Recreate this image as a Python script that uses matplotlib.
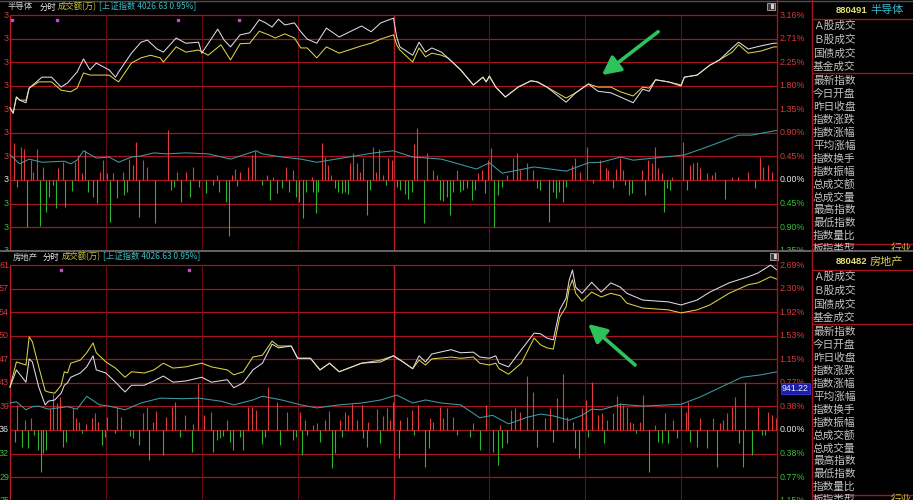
import matplotlib
matplotlib.use('Agg')
import matplotlib.pyplot as plt
from matplotlib.lines import Line2D
from matplotlib.patches import Rectangle

plt.rcParams['font.family'] = ['Noto Sans CJK SC', 'DejaVu Sans']

# ---------------- 880491 半导体 (percent change vs. previous close) ----------------
semi_t = [0, 1, 2, 3, 5, 6, 10, 13, 16, 18, 21, 23, 25, 27, 31, 33, 34, 38, 41, 43,
          46, 48, 52, 55, 59, 60, 65, 67, 69, 72, 75, 78, 80, 82, 84, 86, 89, 91, 93, 96,
          99, 103, 105, 110, 113, 116, 120, 121, 122, 126, 128, 130, 132, 135, 137, 141, 145, 148, 149, 150,
          152, 155, 159, 163, 165, 168, 174, 177, 181, 184, 188, 191, 195, 198, 200, 202, 206, 210, 211, 215,
          219, 222, 226, 228, 231, 235, 239, 240]
semi_idx = [1.38, 1.28, 1.59, 1.53, 1.48, 1.76, 1.97, 1.97, 1.78, 1.86, 2.07, 2.32, 2.11, 2.24, 2.11, 1.97, 2.07, 2.43, 2.64, 2.68,
            2.51, 2.45, 2.72, 2.62, 2.64, 2.43, 2.89, 2.68, 2.55, 2.78, 2.82, 3.07, 3.01, 2.93, 3.08, 2.97, 3.01, 2.84, 2.70, 2.62,
            2.91, 2.74, 2.80, 2.95, 2.84, 3.01, 3.10, 2.74, 2.55, 2.39, 2.64, 2.45, 2.53, 2.45, 2.34, 2.11, 1.82, 1.97, 1.88, 1.99,
            1.78, 1.59, 1.78, 1.90, 1.88, 1.78, 1.49, 1.67, 1.84, 1.70, 1.67, 1.59, 1.48, 1.74, 1.70, 1.92, 1.88, 1.80, 1.97, 2.01,
            2.20, 2.30, 2.53, 2.64, 2.51, 2.57, 2.62, 2.62]
semi_avg_t = [0, 1, 2, 3, 5, 6, 9, 13, 16, 19, 21, 23, 25, 28, 31, 33, 34, 38, 41, 44,
              47, 48, 52, 55, 59, 62, 66, 69, 72, 75, 78, 81, 83, 86, 89, 91, 93, 96, 99, 103,
              110, 113, 116, 120, 121, 122, 126, 128, 130, 132, 135, 137, 141, 145, 148, 149, 150, 152, 155, 159,
              163, 165, 168, 174, 177, 181, 184, 188, 191, 195, 198, 200, 202, 206, 210, 211, 215, 219, 222, 226,
              228, 231, 235, 239, 240]
semi_avg = [1.38, 1.28, 1.59, 1.53, 1.53, 1.76, 1.88, 1.88, 1.72, 1.69, 1.76, 2.05, 2.01, 2.01, 2.01, 1.92, 1.88, 2.24, 2.34, 2.39,
            2.34, 2.26, 2.55, 2.45, 2.49, 2.39, 2.59, 2.30, 2.61, 2.62, 2.85, 2.78, 2.72, 2.80, 2.72, 2.53, 2.53, 2.34, 2.55, 2.43,
            2.57, 2.62, 2.70, 2.78, 2.59, 2.49, 2.26, 2.53, 2.36, 2.43, 2.39, 2.34, 2.11, 1.82, 1.97, 1.88, 1.99, 1.78, 1.59, 1.78,
            1.90, 1.88, 1.78, 1.57, 1.67, 1.84, 1.78, 1.78, 1.69, 1.61, 1.78, 1.76, 1.92, 1.88, 1.82, 1.97, 2.01, 2.20, 2.30, 2.45,
            2.59, 2.43, 2.47, 2.55, 2.55]
semi_sh_t = [0, 3, 6, 10, 17, 19, 21, 23, 27, 31, 34, 38, 41, 45, 49, 55, 62, 69, 72, 77,
             79, 85, 91, 96, 106, 114, 120, 126, 135, 146, 150, 154, 164, 174, 181, 185, 191, 195, 211, 218,
             228, 232, 239, 240]
semi_sh = [0.48, 0.31, 0.40, 0.34, 0.36, 0.31, 0.38, 0.56, 0.42, 0.44, 0.34, 0.44, 0.46, 0.52, 0.50, 0.52, 0.50, 0.40, 0.46, 0.56,
           0.50, 0.44, 0.40, 0.34, 0.44, 0.52, 0.56, 0.44, 0.40, 0.21, 0.33, 0.13, 0.25, 0.17, 0.33, 0.34, 0.44, 0.38, 0.48, 0.63,
           0.86, 0.86, 0.94, 0.95]
semi_up_t = [1.3, 3.4, 4.4, 6.6, 7.2, 8.4, 10.3, 15.0, 16.6, 20.3, 21.3, 22.5, 23.5, 28.2, 29.1, 30.4, 32.2, 35.4, 37.2, 38.5,
             39.4, 41.6, 42.9, 49.4, 52.3, 55.1, 57.3, 64.8, 69.5, 70.4, 72.0, 74.5, 75.7, 76.7, 80.4, 82.3, 86.4, 88.5, 94.5, 97.6,
             98.6, 99.5, 100.4, 106.4, 107.3, 108.6, 109.5, 110.5, 113.6, 114.5, 115.5, 116.7, 118.3, 119.5, 126.4, 127.3, 130.5, 132.4, 133.6, 139.9,
             146.4, 147.7, 149.6, 150.5, 155.5, 157.4, 158.6, 159.6, 161.8, 163.6, 175.8, 176.8, 178.3, 180.5, 184.6, 186.5, 187.1, 189.6, 190.9, 191.8,
             197.7, 199.6, 200.9, 201.8, 202.7, 204.0, 207.1, 210.6, 212.8, 213.7, 214.9, 215.9, 218.1, 219.6, 220.6, 225.9, 227.8, 230.9, 234.7, 235.6,
             237.2, 238.4]
semi_up = [0.71, 0.63, 0.59, 0.38, 0.15, 0.59, 0.25, 0.23, 0.34, 0.34, 0.48, 0.13, 0.57, 0.15, 0.38, 0.13, 0.13, 0.15, 0.40, 0.29,
           0.73, 0.38, 0.25, 0.96, 0.15, 0.15, 0.25, 0.10, 0.10, 0.21, 0.15, 0.25, 0.48, 0.56, 0.10, 0.06, 0.25, 0.19, 0.06, 0.71,
           0.44, 0.29, 0.10, 0.33, 0.52, 0.33, 0.15, 0.42, 0.63, 0.15, 0.59, 0.10, 0.42, 0.38, 0.69, 1.00, 0.52, 0.19, 0.10, 0.19,
           0.13, 0.19, 0.38, 0.61, 0.10, 0.42, 0.52, 0.19, 0.33, 0.19, 0.29, 0.42, 0.15, 0.63, 0.38, 0.23, 0.19, 0.21, 0.42, 0.19,
           0.19, 0.38, 0.33, 0.63, 0.23, 0.13, 0.06, 0.73, 0.29, 0.33, 0.34, 0.23, 0.13, 0.10, 0.15, 0.06, 0.06, 0.15, 0.44, 0.25,
           0.29, 0.15]
semi_dn_t = [2.2, 5.3, 9.4, 11.3, 12.2, 13.5, 14.4, 17.2, 19.4, 24.4, 26.0, 27.2, 31.3, 33.5, 35.8, 36.6, 40.4, 45.4, 50.4, 51.3,
             53.5, 56.3, 59.1, 61.3, 63.5, 65.4, 67.6, 68.5, 71.0, 78.8, 81.4, 83.5, 85.1, 87.3, 89.5, 90.4, 91.7, 92.6, 94.9, 95.6,
             96.4, 101.7, 102.6, 103.9, 104.8, 105.8, 111.7, 112.6, 117.6, 121.1, 122.0, 123.6, 124.5, 125.8, 129.5, 134.5, 135.5, 136.7, 137.7, 138.6,
             140.8, 141.7, 143.0, 144.6, 145.5, 148.6, 151.4, 152.7, 154.0, 164.9, 165.8, 168.6, 169.9, 170.8, 171.8, 173.0, 174.0, 182.4, 188.7, 192.3,
             193.7, 194.6, 198.7, 204.6, 205.6, 206.5, 211.8, 223.7, 233.1]
semi_dn = [-0.13, -0.90, -0.88, -0.61, -0.33, -0.10, -0.54, -0.52, -0.21, -0.23, -0.33, -0.44, -0.80, -0.34, -0.29, -0.23, -0.71, -0.82, -0.19, -0.13,
           -0.42, -0.33, -0.13, -0.25, -0.10, -0.23, -0.42, -1.07, -0.11, -0.10, -0.38, -0.25, -0.15, -0.23, -0.33, -0.42, -0.73, -0.23, -0.23, -0.63,
           -0.23, -0.15, -0.23, -0.25, -0.23, -0.27, -0.67, -0.19, -0.10, -0.13, -0.19, -0.27, -0.36, -0.23, -0.82, -0.38, -0.40, -0.33, -0.67, -0.23,
           -0.23, -0.19, -0.15, -0.38, -0.19, -0.25, -0.90, -0.29, -0.13, -0.15, -0.19, -0.80, -0.23, -0.34, -0.23, -0.42, -0.13, -0.06, -0.15, -0.10,
           -0.29, -0.25, -0.29, -0.61, -0.15, -0.19, -0.19, -0.36, -0.15]
semi_right = ['3.16%', '2.71%', '2.25%', '1.80%', '1.35%', '0.90%', '0.45%', '0.00%', '0.45%', '0.90%', '1.35%']
semi_left = ['3'] * 11
semi_marks_t = [0.6, 14.7, 52.6, 71.7]

# ---------------- 880482 房地产 ----------------
estate_t = [0, 2, 5, 6, 7, 9, 11, 12, 14, 16, 17, 18, 19, 22, 24, 26, 27, 30, 33, 36,
            38, 42, 45, 48, 51, 55, 60, 63, 68, 70, 73, 76, 79, 82, 84, 88, 90, 94, 97, 100,
            103, 110, 116, 120, 123, 126, 128, 130, 132, 138, 141, 145, 147, 150, 152, 153, 156, 160, 164, 166,
            168, 170, 172, 174, 175, 176, 177, 179, 182, 185, 188, 191, 193, 198, 206, 210, 215, 219, 225, 231,
            234, 238, 240]
estate_idx = [0.70, 0.98, 0.78, 1.16, 1.11, 0.70, 0.41, 0.47, 0.49, 0.60, 0.73, 0.77, 0.86, 0.93, 1.03, 1.21, 0.98, 0.93, 0.78, 0.62,
              0.73, 0.73, 0.80, 0.88, 0.78, 0.80, 0.86, 0.78, 0.82, 0.69, 0.77, 0.98, 1.09, 1.40, 1.34, 1.37, 1.17, 1.17, 0.98, 1.09,
              0.95, 1.09, 1.11, 1.21, 1.11, 1.00, 1.21, 1.11, 1.24, 1.31, 1.26, 1.27, 1.19, 1.17, 1.21, 1.09, 1.03, 1.31, 1.58, 1.57,
              1.50, 1.47, 1.96, 2.15, 2.45, 2.61, 2.33, 2.23, 2.41, 2.25, 2.40, 2.33, 2.23, 2.12, 2.09, 2.04, 2.12, 2.25, 2.40, 2.50,
              2.56, 2.69, 2.61]
estate_avg = [0.70, 1.11, 1.06, 1.52, 1.44, 1.03, 0.64, 0.62, 0.60, 0.73, 0.95, 0.93, 1.09, 1.14, 1.26, 1.42, 1.26, 1.11, 1.01, 0.86,
              0.95, 0.93, 0.98, 1.09, 1.01, 1.03, 1.09, 1.03, 0.98, 0.90, 0.95, 1.19, 1.22, 1.45, 1.37, 1.37, 1.17, 1.17, 0.98, 1.09,
              0.95, 1.09, 1.14, 1.21, 1.11, 1.00, 1.14, 1.06, 1.16, 1.19, 1.17, 1.19, 1.09, 1.06, 1.09, 1.00, 0.91, 1.09, 1.50, 1.39,
              1.34, 1.32, 1.84, 2.01, 2.32, 2.45, 2.23, 2.10, 2.25, 2.17, 2.23, 2.19, 2.07, 1.99, 1.96, 1.91, 1.96, 2.04, 2.23, 2.37,
              2.40, 2.50, 2.46]
estate_sh_t = [0, 2, 5, 7, 9, 12, 18, 21, 24, 28, 31, 36, 41, 47, 54, 59, 66, 70, 76, 79,
               85, 91, 96, 103, 110, 116, 121, 126, 130, 135, 141, 147, 151, 156, 162, 166, 170, 175, 179, 182,
               185, 191, 198, 210, 216, 229, 235, 240]
estate_sh = [0.44, 0.46, 0.33, 0.38, 0.39, 0.34, 0.38, 0.34, 0.55, 0.41, 0.39, 0.33, 0.44, 0.52, 0.51, 0.52, 0.47, 0.41, 0.49, 0.55,
             0.49, 0.41, 0.36, 0.41, 0.44, 0.49, 0.57, 0.44, 0.49, 0.44, 0.41, 0.20, 0.24, 0.10, 0.21, 0.26, 0.23, 0.16, 0.24, 0.34,
             0.33, 0.42, 0.39, 0.42, 0.54, 0.86, 0.90, 0.95]
estate_up_t = [2.2, 4.7, 6.6, 12.5, 13.5, 14.7, 15.6, 19.7, 20.7, 21.6, 23.8, 25.7, 26.6, 27.5, 30.4, 33.5, 34.7, 41.6, 42.9, 44.7,
               45.7, 48.8, 50.7, 51.6, 54.8, 57.3, 58.8, 60.7, 62.9, 67.9, 74.5, 75.7, 77.0, 80.7, 83.5, 86.7, 90.7, 92.3, 94.8, 96.1,
               98.6, 99.8, 103.3, 104.8, 105.8, 107.0, 108.6, 110.1, 112.0, 114.8, 116.7, 118.0, 118.9, 119.8, 122.0, 124.2, 125.8, 127.7, 131.4, 132.4,
               134.5, 135.5, 136.7, 138.6, 144.9, 148.9, 153.3, 156.8, 158.0, 159.6, 161.8, 163.6, 167.4, 169.0, 171.2, 173.0, 174.3, 176.2, 179.0, 180.2,
               182.1, 184.0, 185.2, 186.8, 188.7, 189.9, 190.9, 191.8, 193.1, 194.0, 194.9, 197.1, 198.1, 201.8, 204.9, 207.4, 210.0, 211.5, 212.1, 215.9,
               220.0, 222.2, 223.1, 224.3, 225.9, 226.8, 230.0, 234.0, 237.2, 238.4, 239.6]
estate_up = [0.41, 0.16, 0.20, 0.34, 0.59, 0.44, 0.54, 0.36, 0.20, 0.13, 0.10, 0.20, 0.28, 0.13, 0.21, 0.38, 0.21, 0.28, 0.38, 0.13,
             0.31, 0.21, 0.38, 0.46, 0.24, 0.10, 0.75, 0.24, 0.29, 0.16, 0.38, 0.38, 0.33, 0.70, 0.46, 0.29, 0.29, 0.16, 0.08, 0.11,
             0.16, 0.31, 0.16, 0.29, 0.24, 0.42, 0.16, 0.41, 0.13, 0.34, 0.23, 0.36, 0.16, 0.46, 0.16, 0.21, 0.33, 0.41, 0.20, 0.13,
             0.38, 0.20, 0.36, 0.21, 0.11, 0.41, 0.08, 0.33, 0.36, 0.29, 0.88, 0.62, 0.20, 0.36, 0.52, 0.91, 0.21, 0.13, 0.36, 0.49,
             0.78, 0.24, 0.28, 0.16, 0.28, 0.55, 0.44, 0.41, 0.38, 0.13, 0.11, 0.13, 0.57, 0.08, 0.28, 0.16, 0.41, 0.29, 0.46, 0.20,
             0.20, 0.11, 0.16, 0.28, 0.38, 0.54, 0.78, 0.38, 0.29, 0.24, 0.20]
estate_dn_t = [1.6, 3.8, 5.6, 7.5, 8.8, 9.7, 10.3, 11.3, 16.6, 17.5, 22.5, 28.8, 29.7, 32.9, 37.5, 38.5, 40.4, 43.5, 47.9, 53.2,
               56.9, 63.5, 64.8, 65.7, 66.6, 68.8, 69.8, 72.0, 72.9, 78.8, 79.8, 84.5, 88.5, 89.5, 91.4, 92.9, 97.0, 100.8, 101.7, 103.9,
               110.5, 111.7, 115.8, 121.7, 126.5, 129.9, 131.1, 139.9, 143.9, 147.1, 151.1, 152.7, 153.9, 155.5, 164.9, 169.9, 176.8, 178.0, 180.9, 185.9,
               195.9, 199.9, 202.8, 204.0, 205.9, 208.7, 212.8, 215.0, 218.1, 221.2, 228.1, 229.3, 232.2, 235.3, 236.2]
estate_dn = [-0.20, -0.28, -0.29, -0.08, -0.33, -0.69, -0.38, -0.33, -0.28, -0.20, -0.05, -0.24, -0.11, -0.05, -0.10, -0.13, -0.24, -0.49, -0.41, -0.11,
             -0.36, -0.36, -0.16, -0.13, -0.10, -0.20, -0.33, -0.11, -0.33, -0.23, -0.11, -0.24, -0.16, -0.11, -0.40, -0.08, -0.20, -0.62, -0.38, -0.11,
             -0.13, -0.28, -0.21, -0.46, -0.08, -0.60, -0.29, -0.08, -0.11, -0.33, -0.36, -0.57, -0.29, -0.21, -0.28, -0.20, -0.29, -0.46, -0.11, -0.21,
             -0.05, -0.69, -0.20, -0.21, -0.21, -0.13, -0.20, -0.28, -0.29, -0.60, -0.21, -0.60, -0.41, -0.08, -0.08]
estate_right = ['2.69%', '2.30%', '1.92%', '1.53%', '1.15%', '0.77%', '0.38%', '0.00%', '0.38%', '0.77%', '1.15%']
estate_left = ['61', '57', '54', '50', '47', '43', '39', '36', '32', '29', '25']
estate_marks_t = [16.0, 56.0]

info_rows = ['Ａ股成交', 'Ｂ股成交', '国债成交', '基金成交', '最新指数', '今日开盘', '昨日收盘',
             '指数涨跌', '指数涨幅', '平均涨幅', '指数换手', '指数振幅', '总成交额', '总成交量',
             '最高指数', '最低指数', '指数量比', '板指类型']

W, H = 913, 500
PX_MIN = 767 / 240          # pixels per minute on the time axis
RED_GRID = '#a8141e'
NUM_FONT = ['Liberation Sans', 'DejaVu Sans']

fig = plt.figure(figsize=(W / 100, H / 100), dpi=100, facecolor='black')


def fig_box(x0, y0, x1, y1):
    return [x0 / W, 1 - y1 / H, (x1 - x0) / W, (y1 - y0) / H]


def fig_line(xs, ys, color, lw=1.0):
    fig.add_artist(Line2D([x / W for x in xs], [1 - y / H for y in ys],
                          transform=fig.transFigure, color=color, lw=lw))


def draw_chart(box, y_lo, y_hi, step, t_idx, idx, t_avg, avg, t_sh, sh,
               up_t, up, dn_t, dn, right_labels, left_labels, marks_t, mark_y, arrow):
    ax = fig.add_axes(fig_box(*box))
    ax.set_xlim(-10 / PX_MIN, 802 / PX_MIN)
    ax.set_ylim(y_lo, y_hi)
    ax.axis('off')
    levels = [step * (7 - i) for i in range(len(right_labels))]
    top = levels[0]

    ax.hlines(levels, 0, 240, color=RED_GRID, lw=0.9, zorder=1)
    ax.vlines([30, 60, 90, 150, 180, 210], y_lo, top, color='#6a0c18', lw=0.8, zorder=1)
    ax.vlines([0, 120], y_lo, top, color='#b8202c', lw=1.0, zorder=1)

    ax.vlines(up_t, 0, up, color='#e23a3a', lw=0.8, zorder=2)
    ax.vlines(dn_t, dn, 0, color='#2cb42c', lw=0.8, zorder=2)
    ax.plot(t_sh, sh, color='#3c9ca6', lw=0.75, zorder=3)
    ax.plot(t_avg, avg, color='#dcd246', lw=0.75, zorder=4)
    ax.plot(t_idx, idx, color='#dcdce6', lw=0.75, zorder=5)
    ax.plot(marks_t, [mark_y] * len(marks_t), 's', ms=1.8, color='#d046d0', zorder=5)

    for lv, rl, ll in zip(levels, right_labels, left_labels):
        if abs(lv) < 1e-6:
            c = '#e8e8e8'
        elif lv > 0:
            c = '#d83a3a'
        else:
            c = '#34c034'
        ax.text(240.7, lv, rl, color=c, fontsize=6.4, family=NUM_FONT,
                ha='left', va='center', clip_on=True)
        ax.text(-0.3, lv, ll, color=c, fontsize=6.4, family=NUM_FONT,
                ha='right', va='center', clip_on=True)

    (tx, ty), (hx, hy) = arrow
    ax.annotate('', xy=(hx, hy), xytext=(tx, ty),
                arrowprops=dict(arrowstyle='-|>,head_length=0.55,head_width=0.28',
                                color='#2ec25c', lw=2.6, mutation_scale=20,
                                shrinkA=0, shrinkB=0), zorder=6)
    return ax


# top chart: 0.00% at y=180px, 52.2 px per 1%
draw_chart((0, 8, 812, 251), -(251 - 180) / 52.2, (180 - 8) / 52.2, 3.16 / 7,
           semi_t, semi_idx, semi_avg_t, semi_avg, semi_sh_t, semi_sh,
           semi_up_t, semi_up, semi_dn_t, semi_dn, semi_right, semi_left,
           semi_marks_t, 3.07, ((202.8, 2.84), (185.2, 2.01)))

# bottom chart: 0.00% at y=430px, 61.3 px per 1%
draw_chart((0, 262, 812, 500), -(500 - 430) / 61.3, (430 - 262) / 61.3, 2.69 / 7,
           estate_t, estate_idx, estate_t, estate_avg, estate_sh_t, estate_sh,
           estate_up_t, estate_up, estate_dn_t, estate_dn, estate_right, estate_left,
           estate_marks_t, 2.61, ((195.6, 1.06), (180.9, 1.73)))

# frame lines
fig_line([0, W], [0.5, 0.5], '#505050')
fig_line([0, W], [251, 251], '#7c7c7c', lw=1.1)
fig_line([777, 777], [0, H], RED_GRID)
fig_line([812, 812], [0, H], RED_GRID)


def header(y, name, name_x, offs):
    fig.text(name_x / W, 1 - y / H, name, color='#d0d0d0', fontsize=6, va='center')
    fig.text(offs[0] / W, 1 - y / H, '分时', color='#f0f0f0', fontsize=6, va='center')
    fig.text(offs[1] / W, 1 - y / H, '成交额(万)', color='#c8c040', fontsize=6, va='center')
    fig.text(offs[2] / W, 1 - y / H, '[上证指数 4026.63 0.95%]', color='#3cbcc0',
             fontsize=6, va='center')


header(7, '半导体', 8, (40, 58, 99))
header(257, '房地产', 13, (43, 62, 103))


def draw_info(y0, y1, code, name, name_color):
    ax = fig.add_axes(fig_box(812, y0, W, y1))
    ax.set_xlim(812, W)
    ax.set_ylim(y1, y0)
    ax.axis('off')
    for yy in (19, 73, 244):
        ax.hlines(y0 + yy, 812, W, color=RED_GRID, lw=1.0)
    ax.text(836, y0 + 10.5, code, color='#e6e07a', fontsize=6.8, weight='bold',
            family=NUM_FONT, va='center')
    ax.text(870, y0 + 10.5, name, color=name_color, fontsize=8, va='center')
    ys = [26 + 13.6 * i for i in range(4)] + [81 + 12.92 * k for k in range(14)]
    for label, yy in zip(info_rows, ys):
        ax.text(813, y0 + yy, label, color='#c4c4c4', fontsize=7.7, va='center', clip_on=True)
    ax.text(891, y0 + 249, '行业', color='#c8b43c', fontsize=7.7, va='center', clip_on=True)


draw_info(0, 251, '880491', '半导体', '#36bcd0')
draw_info(251, 500, '880482', '房地产', '#d8cc50')

# last-price tag and small window icons
fig.text(782 / W, 1 - 388.5 / H, '941.22', color='#f0f0f0', fontsize=6.3, family=NUM_FONT,
         va='center', bbox=dict(boxstyle='square,pad=0.15', facecolor='#1c1ca8',
                                edgecolor='#3a3ae0', lw=0.6))
for ix, iy in ((767, 3), (770, 253)):
    fig.add_artist(Rectangle((ix / W, 1 - (iy + 7) / H), 8 / W, 7 / H, transform=fig.transFigure,
                             facecolor='#3a3a3a', edgecolor='#b0b0b0', lw=0.6))
    fig.add_artist(Rectangle(((ix + 4) / W, 1 - (iy + 6) / H), 3 / W, 5 / H, transform=fig.transFigure,
                             facecolor='#d0d0d0', edgecolor='none'))

fig.savefig('out.png', dpi=100, facecolor='black')
